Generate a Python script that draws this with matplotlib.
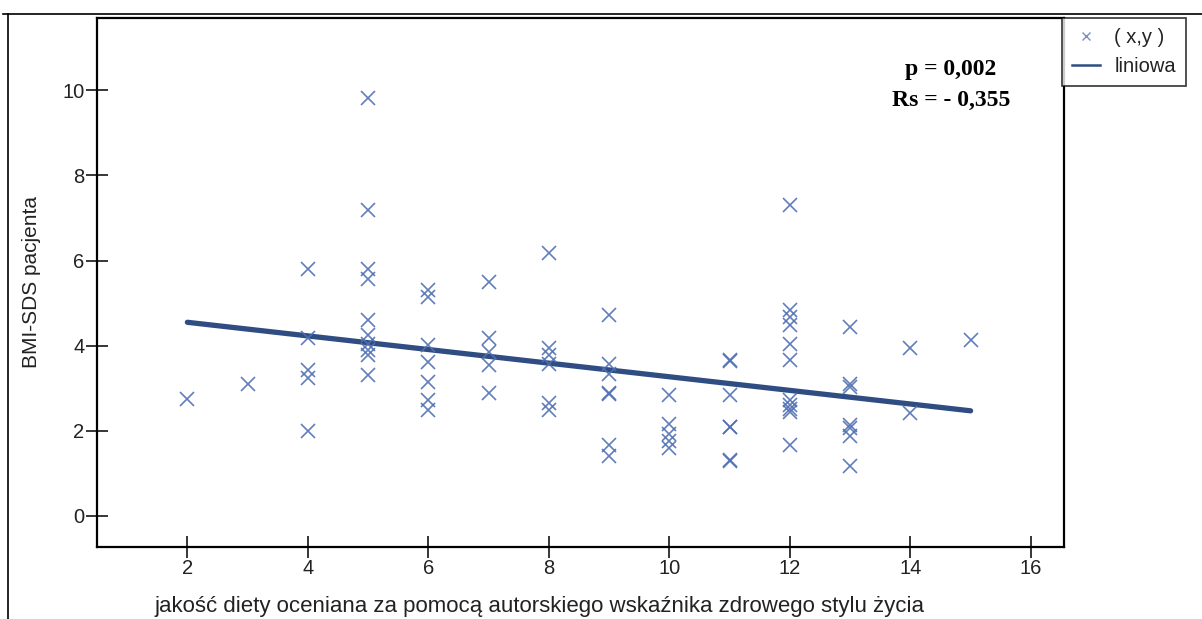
import matplotlib.pyplot as plt
from matplotlib.lines import Line2D
import numpy as np

# jakosc diety (x) i BMI-SDS (y)
diet_score = ([2] + [3] + [4] * 5 + [5] * 10 + [6] * 7 + [7] * 5 + [8] * 6 + [9] * 7
              + [10] * 5 + [11] * 7 + [12] * 11 + [13] * 7 + [14] * 2 + [15])
bmi_sds = [2.74,
           3.11,
           5.81, 4.17, 3.44, 3.23, 2.00,
           9.83, 7.20, 5.81, 5.56, 4.60, 4.25, 4.05, 3.91, 3.78, 3.31,
           5.31, 5.15, 4.01, 3.62, 3.15, 2.72, 2.49,
           5.50, 4.17, 3.86, 3.54, 2.88,
           6.18, 3.94, 3.78, 3.58, 2.65, 2.49,
           4.72, 3.58, 3.33, 2.88, 2.86, 1.67, 1.41,
           2.84, 2.17, 1.92, 1.75, 1.59,
           3.66, 3.64, 2.84, 2.10, 2.08, 1.31, 1.30,
           7.30, 4.84, 4.68, 4.48, 4.05, 3.66, 2.72, 2.60, 2.52, 2.45, 1.67,
           4.44, 3.11, 3.02, 2.14, 2.06, 1.88, 1.17,
           3.95, 2.41,
           4.13]

# prosta regresji (liniowa)
fit_intercept = 4.87
fit_slope = -0.16

x_ticks = [2, 4, 6, 8, 10, 12, 14, 16]
y_ticks = [0, 2, 4, 6, 8, 10]

stat_text = "p = 0,002\nRs = - 0,355"

sans = ['Liberation Sans', 'DejaVu Sans']
pt_color = '#5070b4'
line_color = '#2f4d82'

fig = plt.figure(figsize=(12.02, 6.19), dpi=100)
ax = fig.add_axes([97 / 1202, 72 / 619, 967 / 1202, 529 / 619])

ax.plot(diet_score, bmi_sds, linestyle='none', marker='x', markersize=10.5,
        markeredgewidth=1.2, color=pt_color, alpha=0.9, zorder=3)

xs = np.array([min(diet_score), max(diet_score)])
ax.plot(xs, fit_intercept + fit_slope * xs, color=line_color, linewidth=3.8,
        solid_capstyle='round', zorder=2)

ax.set_xlim(0.5, 16.55)
ax.set_ylim(-0.73, 11.7)
ax.set_xticks(x_ticks)
ax.set_yticks(y_ticks)
ax.tick_params(direction='inout', length=16, width=1.1, pad=1,
               labelsize=14.5, labelcolor='#222222')
for lab in ax.get_xticklabels() + ax.get_yticklabels():
    lab.set_family(sans)
for sp in ax.spines.values():
    sp.set_linewidth(1.6)

ax.set_xlabel('jakość diety oceniana za pomocą autorskiego wskaźnika zdrowego stylu życia',
              family=sans, fontsize=16, color='#222222')
ax.xaxis.set_label_coords(0.458, -0.092)
ax.set_ylabel('BMI-SDS pacjenta', family=sans, fontsize=15, color='#222222')
ax.yaxis.set_label_coords(-0.058, 0.5)

ax.text(951 / 1202, (619 - 85) / 619, stat_text, transform=fig.transFigure,
        family=['Liberation Serif', 'DejaVu Serif'], fontweight='bold', fontsize=17,
        ha='center', va='center', multialignment='center', linespacing=1.65)

handles = [Line2D([], [], linestyle='none', marker='x', markersize=6,
                  markeredgewidth=1.0, color='#7a90c0'),
           Line2D([], [], color=line_color, linewidth=1.8)]
leg = fig.legend(handles, ['( x,y )', 'liniowa'], loc='upper left',
                 bbox_to_anchor=(1062 / 1202, 601 / 619), frameon=True,
                 fancybox=False, borderaxespad=0, handlelength=1.4,
                 prop={'family': sans, 'size': 14.5}, labelspacing=0.5,
                 borderpad=0.5, handletextpad=0.7)
leg.get_frame().set_edgecolor('black')
leg.get_frame().set_linewidth(1.2)
for t in leg.get_texts():
    t.set_color('#222222')

# ramka rysunku
fig.add_artist(Line2D([3 / 1202, 1], [605 / 619, 605 / 619], color='black', linewidth=1.2))
fig.add_artist(Line2D([8 / 1202, 8 / 1202], [0, 605 / 619], color='black', linewidth=1.2))

fig.savefig('out.png', dpi=100)
